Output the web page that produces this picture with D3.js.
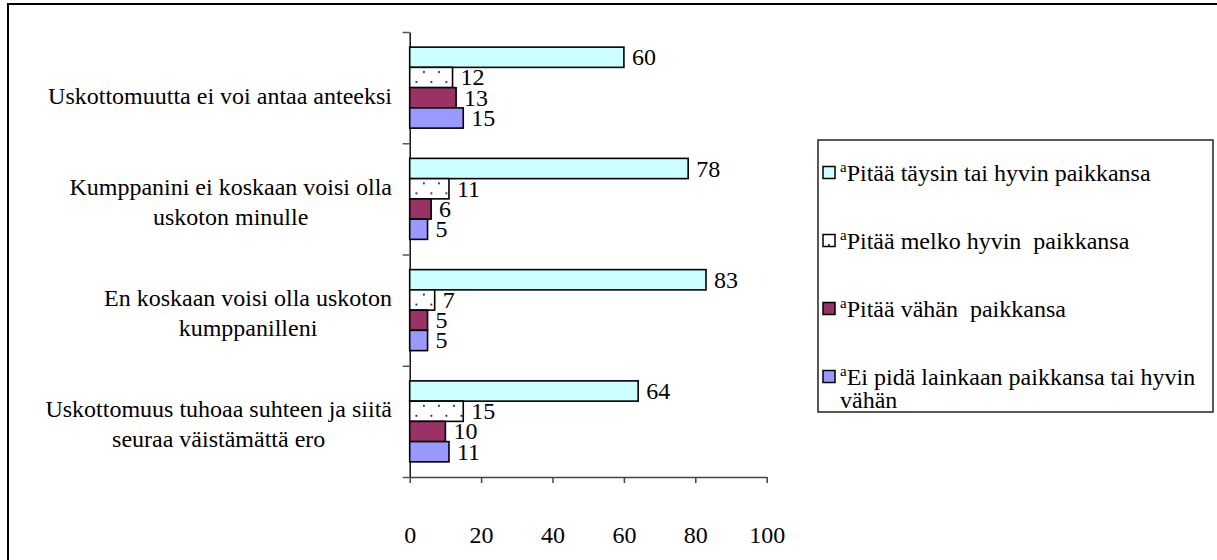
<!DOCTYPE html>
<html>
<head>
<meta charset="utf-8">
<script src="https://cdn.jsdelivr.net/npm/d3@7"></script>
<style>
  body { margin: 0; background: #fff; }
  svg { display: block; }
</style>
</head>
<body>
<svg id="chart" width="1217" height="560"></svg>
<script>
// Category labels (each entry = wrapped lines)
const categories = [
  ["Uskottomuutta ei voi antaa anteeksi"],
  ["Kumppanini ei koskaan voisi olla", "uskoton minulle"],
  ["En koskaan voisi olla uskoton", "kumppanilleni"],
  ["Uskottomuus tuhoaa suhteen ja siitä", "seuraa väistämättä ero"]
];

// Legend labels (each entry = wrapped lines)
const seriesNames = [
  ["Pitää täysin tai hyvin paikkansa"],
  ["Pitää melko hyvin  paikkansa"],
  ["Pitää vähän  paikkansa"],
  ["Ei pidä lainkaan paikkansa tai hyvin", "vähän"]
];

// Percentages per statement
const taysin = [60, 78, 83, 64];
const melko  = [12, 11, 7, 15];
const vahan  = [13, 6, 5, 10];
const eiPida = [15, 5, 5, 11];

const xTicks = [0, 20, 40, 60, 80, 100];

const series = [
  { key: "taysin", values: taysin },
  { key: "melko",  values: melko },
  { key: "vahan",  values: vahan },
  { key: "eiPida", values: eiPida }
];
const fills = { taysin: "#CCFFFF", melko: "url(#dots)", vahan: "#993366", eiPida: "#9999FF" };

const SERIF = "'Liberation Serif'";
const FONT = 24;

const svg = d3.select("#chart");

// Chart frame
svg.append("rect")
  .attr("x", 8).attr("y", 4)
  .attr("width", 1400).attr("height", 800)
  .attr("fill", "none").attr("stroke", "#000").attr("stroke-width", 2);

// Dotted fill pattern
const defs = svg.append("defs");
const pat = defs.append("pattern")
  .attr("id", "dots").attr("patternUnits", "userSpaceOnUse")
  .attr("width", 15).attr("height", 20);
pat.append("rect").attr("width", 15).attr("height", 20).attr("fill", "#fff");
pat.append("rect").attr("x", 3).attr("y", 4).attr("width", 1.8).attr("height", 1.8).attr("fill", "#222");
pat.append("rect").attr("x", 10.5).attr("y", 14).attr("width", 1.8).attr("height", 1.8).attr("fill", "#222");

// Plot area
const plot = { left: 409.7, right: 766.7, top: 32, bottom: 477 };

const x = d3.scaleLinear().domain([0, 100]).range([plot.left, plot.right]);

const pad = 0.272;
const y = d3.scaleBand()
  .domain(d3.range(categories.length))
  .range([plot.top, plot.bottom])
  .paddingInner(pad).paddingOuter(pad / 2);

const ySub = d3.scaleBand()
  .domain(series.map(s => s.key))
  .range([0, y.bandwidth()]);

// Category boundary ticks along the vertical axis
const yBound = d3.scaleLinear().domain([0, categories.length]).range([plot.top, plot.bottom]);
const yAxis = svg.append("g")
  .attr("transform", `translate(${plot.left},0)`)
  .call(d3.axisLeft(yBound).tickValues(d3.range(categories.length + 1)).tickFormat("").tickSize(7).tickSizeOuter(0));
yAxis.select(".domain").attr("stroke", "#111").attr("stroke-width", 1.5);
yAxis.selectAll(".tick line").attr("stroke", "#555").attr("stroke-width", 1.5);

// Horizontal value axis
const xAxis = svg.append("g")
  .attr("transform", `translate(0,${plot.bottom})`)
  .call(d3.axisBottom(x).tickValues(xTicks).tickSize(6).tickSizeOuter(0).tickPadding(43));
xAxis.attr("font-family", SERIF).attr("font-size", FONT);
xAxis.select(".domain").attr("stroke", "#444").attr("stroke-width", 1.5);
xAxis.selectAll(".tick line").attr("stroke", "#444").attr("stroke-width", 1.5);
xAxis.selectAll(".tick text")
  .style("font-family", SERIF)
  .style("font-size", FONT + "px")
  .attr("fill", "#000");

// Bars
const groups = svg.append("g").selectAll("g")
  .data(categories.map((c, i) => i))
  .join("g")
  .attr("transform", i => `translate(0,${y(i)})`);

groups.selectAll("rect")
  .data(i => series.map(s => ({ key: s.key, value: s.values[i] })))
  .join("rect")
  .attr("x", x(0))
  .attr("y", d => ySub(d.key))
  .attr("width", d => x(d.value) - x(0))
  .attr("height", ySub.bandwidth())
  .attr("fill", d => fills[d.key])
  .attr("stroke", "#000")
  .attr("stroke-width", 1.6);

// Value labels
groups.selectAll("text.val")
  .data(i => series.map(s => ({ key: s.key, value: s.values[i] })))
  .join("text")
  .attr("class", "val")
  .attr("x", d => x(d.value) + 8)
  .attr("y", d => ySub(d.key) + ySub.bandwidth() / 2 + 8)
  .style("font-family", SERIF)
  .style("font-size", FONT + "px")
  .text(d => d.value);

// Category labels: lines centred on each other, block right-aligned
const labelRight = 392;
const lineGap = 30;
categories.forEach((lines, i) => {
  const g = svg.append("g");
  const texts = lines.map(l => g.append("text")
    .style("font-family", SERIF)
    .style("font-size", FONT + "px")
    .text(l));
  const maxW = d3.max(texts, t => t.node().getComputedTextLength());
  const cx = labelRight - maxW / 2;
  const n = lines.length;
  const cy = y(i) + y.bandwidth() / 2 + (n === 1 ? 8 : 3);
  texts.forEach((t, k) => {
    t.attr("text-anchor", "middle")
     .attr("x", cx)
     .attr("y", cy + (k - (n - 1) / 2) * lineGap + 8);
  });
});

// Legend
const legend = { x: 818, y: 140, w: 395, h: 272 };
const lg = svg.append("g");
lg.append("rect")
  .attr("x", legend.x).attr("y", legend.y)
  .attr("width", legend.w).attr("height", legend.h)
  .attr("fill", "#fff").attr("stroke", "#222").attr("stroke-width", 1.5);

const itemY = d3.scaleLinear().domain([0, 3]).range([173, 377]);
series.forEach((s, i) => {
  const cy = itemY(i);
  lg.append("rect")
    .attr("x", 823).attr("y", cy - 6.5)
    .attr("width", 12).attr("height", 12)
    .attr("fill", fills[s.key]).attr("stroke", "#000").attr("stroke-width", 1.5);
  seriesNames[i].forEach((line, k) => {
    const t = lg.append("text")
      .attr("x", 840).attr("y", cy + 8 + k * 23)
      .style("font-family", SERIF)
      .style("font-size", FONT + "px")
      .style("white-space", "pre");
    if (k === 0) {
      t.append("tspan").style("font-size", "15px").attr("dy", -9).text("a");
      t.append("tspan").attr("dy", 9).text(line);
    } else {
      t.text(line);
    }
  });
});
</script>
</body>
</html>
